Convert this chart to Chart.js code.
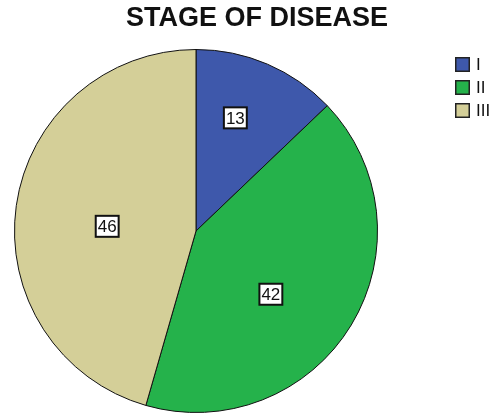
<!DOCTYPE html>
<html>
<head>
<meta charset="utf-8">
<script src="https://cdn.jsdelivr.net/npm/chart.js@4"></script>
<style>
  html, body { margin: 0; padding: 0; background: #fff; }
  #wrap { width: 491px; height: 416px; }
</style>
</head>
<body>
<div id="wrap"><canvas id="chart" width="491" height="416"></canvas></div>
<script>
"use strict";

// data
const stages = ["I", "II", "III"];
const counts = [13, 42, 46];
const sliceColors = ["#3e58ab", "#25b24b", "#d4cf98"];
// where each count label sits: fraction of radius + turn from the mid angle (deg)
const labelDepth = [0.66, 0.54, 0.49];
const labelTurn = [-4, 9, -5];

const chartTitle = "STAGE OF DISEASE";

// draws title, boxed value labels and legend like the SPSS output
const spssLook = {
  id: "spssLook",
  afterDraw(chart) {
    const ctx = chart.ctx;
    ctx.save();

    // title
    ctx.font = "bold 27px 'Liberation Sans', Arial, sans-serif";
    ctx.fillStyle = "#111";
    ctx.textAlign = "center";
    ctx.textBaseline = "middle";
    ctx.fillText(chartTitle, 257, 19);

    // value labels
    const meta = chart.getDatasetMeta(0);
    ctx.font = "17px 'Liberation Sans', Arial, sans-serif";
    meta.data.forEach((arc, i) => {
      const mid = (arc.startAngle + arc.endAngle) / 2 + labelTurn[i] * Math.PI / 180;
      const r = arc.outerRadius * labelDepth[i];
      const x = arc.x + Math.cos(mid) * r;
      const y = arc.y + Math.sin(mid) * r;
      const txt = String(counts[i]);
      const w = ctx.measureText(txt).width + 4;
      const h = 21;
      ctx.fillStyle = "#fff";
      ctx.fillRect(x - w / 2, y - h / 2, w, h);
      ctx.strokeStyle = "#111";
      ctx.lineWidth = 2;
      ctx.strokeRect(x - w / 2, y - h / 2, w, h);
      ctx.fillStyle = "#111";
      ctx.fillText(txt, x, y + 1);
    });

    // legend
    ctx.font = "17px 'Liberation Sans', Arial, sans-serif";
    ctx.textAlign = "left";
    stages.forEach((s, i) => {
      const y = 57 + i * 23;
      ctx.fillStyle = sliceColors[i];
      ctx.fillRect(455, y, 15, 15);
      ctx.strokeStyle = "#222";
      ctx.lineWidth = 1.5;
      ctx.strokeRect(455.75, y + 0.75, 13.5, 13.5);
      ctx.fillStyle = "#111";
      ctx.fillText(s, 476, y + 8.5);
    });

    ctx.restore();
  }
};

const ctx = document.getElementById("chart").getContext("2d");
new Chart(ctx, {
  type: "pie",
  data: {
    labels: stages,
    datasets: [{
      data: counts,
      backgroundColor: sliceColors,
      borderColor: "#111",
      borderWidth: 1
    }]
  },
  options: {
    responsive: false,
    animation: false,
    layout: {
      padding: { left: 14, right: 113, top: 49, bottom: 3 }
    },
    plugins: {
      legend: { display: false },
      title: { display: false },
      tooltip: { enabled: false }
    }
  },
  plugins: [spssLook]
});
</script>
</body>
</html>
